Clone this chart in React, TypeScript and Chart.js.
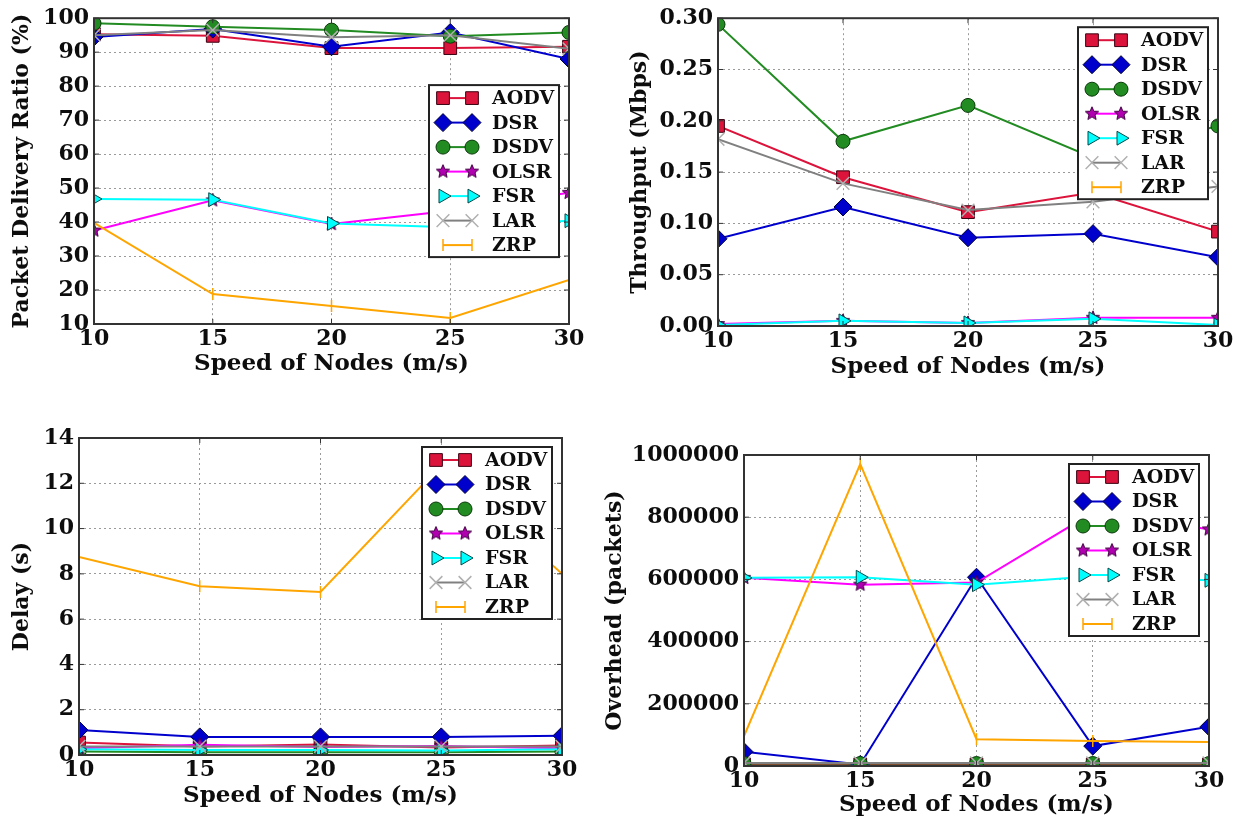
import React, { useEffect, useRef } from 'react';
import { Chart, registerables } from 'chart.js';
import { drawPoint } from 'chart.js/helpers';

Chart.register(...registerables);

// ---------- data ----------
const speeds = [10, 15, 20, 25, 30];
const seriesNames = ['AODV', 'DSR', 'DSDV', 'OLSR', 'FSR', 'LAR', 'ZRP'];

// Packet Delivery Ratio (%)
const pdrAODV = [95.3, 94.8, 91.2, 91.2, 91.6];
const pdrDSR = [94.5, 96.8, 91.6, 95.8, 88.0];
const pdrDSDV = [98.5, 97.5, 96.5, 94.7, 95.8];
const pdrOLSR = [37.5, 46.4, 39.4, 43.3, 48.6];
const pdrFSR = [46.8, 46.6, 39.6, 38.5, 40.4];
const pdrLAR = [95.0, 96.5, 94.4, 95.0, 91.0];
const pdrZRP = [39.8, 18.8, 15.3, 11.8, 23.0];

// Throughput (Mbps)
const thrAODV = [0.195, 0.145, 0.111, 0.13, 0.092];
const thrDSR = [0.085, 0.116, 0.086, 0.09, 0.067];
const thrDSDV = [0.294, 0.18, 0.215, 0.164, 0.195];
const thrOLSR = [0.002, 0.005, 0.003, 0.008, 0.008];
const thrFSR = [0.001, 0.005, 0.003, 0.007, 0.001];
const thrLAR = [0.182, 0.139, 0.113, 0.121, 0.136];
const thrZRP = [null, null, null, null, null];

// Delay (s)
const dlyAODV = [0.55, 0.38, 0.46, 0.33, 0.42];
const dlyDSR = [1.1, 0.8, 0.8, 0.8, 0.85];
const dlyDSDV = [0.15, 0.12, 0.12, 0.12, 0.15];
const dlyOLSR = [0.3, 0.45, 0.35, 0.4, 0.3];
const dlyFSR = [0.25, 0.22, 0.22, 0.2, 0.25];
const dlyLAR = [0.38, 0.38, 0.38, 0.38, 0.38];
const dlyZRP = [8.75, 7.45, 7.2, 12.8, 8.0];

// Overhead (packets)
const ohAODV = [5000, 5000, 5000, 5000, 5000];
const ohDSR = [46000, 5000, 607000, 64000, 126000];
const ohDSDV = [8000, 8000, 8000, 8000, 8000];
const ohOLSR = [605000, 583000, 590000, 815000, 761000];
const ohFSR = [605000, 607000, 583000, 610000, 597000];
const ohLAR = [10000, 10000, 10000, 10000, 10000];
const ohZRP = [96000, 971000, 86000, 80000, 77000];

const xTitle = 'Speed of Nodes (m/s)';

// ---------- styles ----------
const FONT_FAMILY = '"DejaVu Serif", serif';
const tickFont = { family: FONT_FAMILY, weight: 'bold' as const, size: 22, lineHeight: 1.2 };
const xTitleFont = { family: FONT_FAMILY, weight: 'bold' as const, size: 23, lineHeight: 1.2 };
const TEXT = '#0d0d0d';

type St = { line: string; face: string; edge: string; shape: string; radius: number; rot: number; bw: number };
const styles: St[] = [
  { line: '#DC143C', face: '#DC143C', edge: '#3a0010', shape: 'rect', radius: 9, rot: 0, bw: 1 },
  { line: '#0000CD', face: '#0000CD', edge: '#00003a', shape: 'rectRot', radius: 9, rot: 0, bw: 1 },
  { line: '#228B22', face: '#228B22', edge: '#0b3a0b', shape: 'circle', radius: 7, rot: 0, bw: 1 },
  { line: '#FF00FF', face: '#B000B0', edge: '#400040', shape: 'star', radius: 7, rot: 0, bw: 1 },
  { line: '#00FFFF', face: '#00FFFF', edge: '#004848', shape: 'triangle', radius: 8, rot: 90, bw: 1 },
  { line: '#808080', face: '#b0b0b0', edge: '#b0b0b0', shape: 'crossRot', radius: 9, rot: 0, bw: 1.5 },
  { line: '#FFA500', face: '#FFA500', edge: '#FFA500', shape: 'line', radius: 6, rot: 90, bw: 1.5 },
];

function makeStar(r: number, fill: string, stroke: string) {
  const size = Math.ceil(r * 2 + 4);
  const c = document.createElement('canvas');
  c.width = size;
  c.height = size;
  const ctx = c.getContext('2d')!;
  const cx = size / 2;
  const cy = size / 2;
  ctx.beginPath();
  for (let i = 0; i < 10; i++) {
    const a = -Math.PI / 2 + (i * Math.PI) / 5;
    const rr = i % 2 === 0 ? r : r * 0.45;
    ctx.lineTo(cx + rr * Math.cos(a), cy + rr * Math.sin(a));
  }
  ctx.closePath();
  ctx.fillStyle = fill;
  ctx.fill();
  ctx.lineWidth = 1;
  ctx.strokeStyle = stroke;
  ctx.stroke();
  return c;
}

// ---------- plugins ----------
const boxLegend = {
  id: 'boxLegend',
  afterDatasetsDraw(chart: any, _args: any, opts: any) {
    const { ctx, chartArea } = chart;
    const w = 130;
    const h = 172;
    const rowH = 24.5;
    const x0 = chartArea.right - 10 - w;
    const y0 = opts.loc === 'center' ? (chartArea.top + chartArea.bottom) / 2 - h / 2 : chartArea.top + 9;
    ctx.save();
    ctx.fillStyle = '#ffffff';
    ctx.fillRect(x0, y0, w, h);
    ctx.lineWidth = 2;
    ctx.strokeStyle = '#222222';
    ctx.strokeRect(x0, y0, w, h);
    chart.data.datasets.forEach((ds: any, i: number) => {
      const y = y0 + 13 + i * rowH;
      const xa = x0 + 14;
      const xb = x0 + 43;
      ctx.strokeStyle = ds.borderColor;
      ctx.lineWidth = ds.borderWidth;
      ctx.beginPath();
      ctx.moveTo(xa, y);
      ctx.lineTo(xb, y);
      ctx.stroke();
      const po = { pointStyle: ds.pointStyle, rotation: ds.pointRotation, radius: ds.pointRadius, borderWidth: ds.pointBorderWidth };
      ctx.fillStyle = ds.pointBackgroundColor;
      ctx.strokeStyle = ds.pointBorderColor;
      ctx.lineWidth = ds.pointBorderWidth;
      drawPoint(ctx, po as any, xa, y);
      drawPoint(ctx, po as any, xb, y);
      ctx.fillStyle = TEXT;
      ctx.font = `bold 19px ${FONT_FAMILY}`;
      ctx.textBaseline = 'middle';
      ctx.textAlign = 'left';
      ctx.fillText(ds.label, x0 + 63, y + 1);
    });
    ctx.restore();
  },
};

const frame = {
  id: 'frame',
  afterDraw(chart: any) {
    const { ctx, chartArea: a, scales } = chart;
    ctx.save();
    ctx.strokeStyle = '#333333';
    ctx.lineWidth = 1;
    ctx.beginPath();
    scales.x.ticks.forEach((t: any) => {
      const px = scales.x.getPixelForValue(t.value);
      ctx.moveTo(px, a.bottom);
      ctx.lineTo(px, a.bottom - 5);
      ctx.moveTo(px, a.top);
      ctx.lineTo(px, a.top + 5);
    });
    scales.y.ticks.forEach((t: any) => {
      const py = scales.y.getPixelForValue(t.value);
      ctx.moveTo(a.left, py);
      ctx.lineTo(a.left + 5, py);
      ctx.moveTo(a.right, py);
      ctx.lineTo(a.right - 5, py);
    });
    ctx.stroke();
    ctx.lineWidth = 2;
    ctx.strokeRect(a.left, a.top, a.right - a.left, a.bottom - a.top);
    ctx.restore();
  },
};

// ---------- panels ----------
type PanelSpec = {
  left: number;
  top: number;
  width: number;
  height: number;
  pad: { left: number; right: number; top: number; bottom: number };
  yWidth: number;
  xHeight: number;
  yTitle: string;
  yMin: number;
  yMax: number;
  yStep: number;
  yFmt: (v: number) => string;
  loc: 'center' | 'upper';
  series: (number | null)[][];
};

const panels: PanelSpec[] = [
  {
    left: 0, top: 0, width: 621, height: 412,
    pad: { left: 9, right: 52, top: 15, bottom: 34 },
    yWidth: 85, xHeight: 54,
    yTitle: 'Packet Delivery Ratio (%)', yMin: 10, yMax: 100, yStep: 10,
    yFmt: (v) => String(Math.round(v)), loc: 'center',
    series: [pdrAODV, pdrDSR, pdrDSDV, pdrOLSR, pdrFSR, pdrLAR, pdrZRP],
  },
  {
    left: 621, top: 0, width: 622, height: 412,
    pad: { left: 6, right: 25, top: 16, bottom: 31 },
    yWidth: 91, xHeight: 55,
    yTitle: 'Throughput (Mbps)', yMin: 0, yMax: 0.3, yStep: 0.05,
    yFmt: (v) => v.toFixed(2), loc: 'upper',
    series: [thrAODV, thrDSR, thrDSDV, thrOLSR, thrFSR, thrLAR, thrZRP],
  },
  {
    left: 0, top: 412, width: 621, height: 413,
    pad: { left: 9, right: 59, top: 26, bottom: 15 },
    yWidth: 70, xHeight: 55,
    yTitle: 'Delay (s)', yMin: 0, yMax: 14, yStep: 2,
    yFmt: (v) => String(Math.round(v)), loc: 'upper',
    series: [dlyAODV, dlyDSR, dlyDSDV, dlyOLSR, dlyFSR, dlyLAR, dlyZRP],
  },
  {
    left: 590, top: 412, width: 653, height: 413,
    pad: { left: 12, right: 34, top: 43, bottom: 6 },
    yWidth: 142, xHeight: 53,
    yTitle: 'Overhead (packets)', yMin: 0, yMax: 1000000, yStep: 200000,
    yFmt: (v) => String(Math.round(v)), loc: 'upper',
    series: [ohAODV, ohDSR, ohDSDV, ohOLSR, ohFSR, ohLAR, ohZRP],
  },
];

function buildConfig(p: PanelSpec, star: HTMLCanvasElement): any {
  const datasets = seriesNames.map((name, i) => {
    const st = styles[i];
    return {
      label: name,
      data: speeds.map((s, k) => ({ x: s, y: p.series[i][k] })),
      borderColor: st.line,
      backgroundColor: st.face,
      borderWidth: 2,
      pointStyle: st.shape === 'star' ? star : st.shape,
      pointRotation: st.rot,
      pointRadius: st.radius,
      pointBackgroundColor: st.face,
      pointBorderColor: st.edge,
      pointBorderWidth: st.bw,
      tension: 0,
      clip: 0,
      order: seriesNames.length - i,
      spanGaps: false,
    };
  });
  return {
    type: 'line',
    data: { datasets },
    options: {
      animation: false,
      responsive: false,
      devicePixelRatio: 1,
      layout: { padding: p.pad },
      plugins: {
        legend: { display: false },
        tooltip: { enabled: false },
        boxLegend: { loc: p.loc },
      },
      scales: {
        x: {
          type: 'linear',
          min: 10,
          max: 30,
          ticks: { stepSize: 5, font: tickFont, color: TEXT, padding: 2, autoSkip: false, maxRotation: 0 },
          grid: { color: '#9a9a9a', lineWidth: 1, drawTicks: false },
          border: { display: false, dash: [2, 3] },
          title: { display: true, text: xTitle, font: xTitleFont, color: TEXT, padding: 0 },
          afterFit: (s: any) => { s.height = p.xHeight; },
        },
        y: {
          type: 'linear',
          min: p.yMin,
          max: p.yMax,
          ticks: { stepSize: p.yStep, font: tickFont, color: TEXT, padding: 5, autoSkip: false, callback: (v: number) => p.yFmt(v) },
          grid: { color: '#9a9a9a', lineWidth: 1, drawTicks: false },
          border: { display: false, dash: [2, 3] },
          title: { display: true, text: p.yTitle, font: tickFont, color: TEXT, padding: 0 },
          afterFit: (s: any) => { s.width = p.yWidth; },
        },
      },
    },
    plugins: [boxLegend, frame],
  };
}

function Panel({ spec }: { spec: PanelSpec }) {
  const ref = useRef<HTMLCanvasElement>(null);
  useEffect(() => {
    const star = makeStar(7, styles[3].face, styles[3].edge);
    const chart = new Chart(ref.current!, buildConfig(spec, star));
    return () => chart.destroy();
  }, [spec]);
  return (
    <div style={{ position: 'absolute', left: spec.left, top: spec.top, width: spec.width, height: spec.height }}>
      <canvas ref={ref} width={spec.width} height={spec.height} style={{ width: spec.width, height: spec.height, display: 'block' }} />
    </div>
  );
}

export default function App() {
  return (
    <div style={{ position: 'absolute', left: 0, top: 0, width: 1243, height: 825, background: '#ffffff', overflow: 'hidden' }}>
      {panels.map((p, i) => (
        <Panel key={i} spec={p} />
      ))}
    </div>
  );
}
